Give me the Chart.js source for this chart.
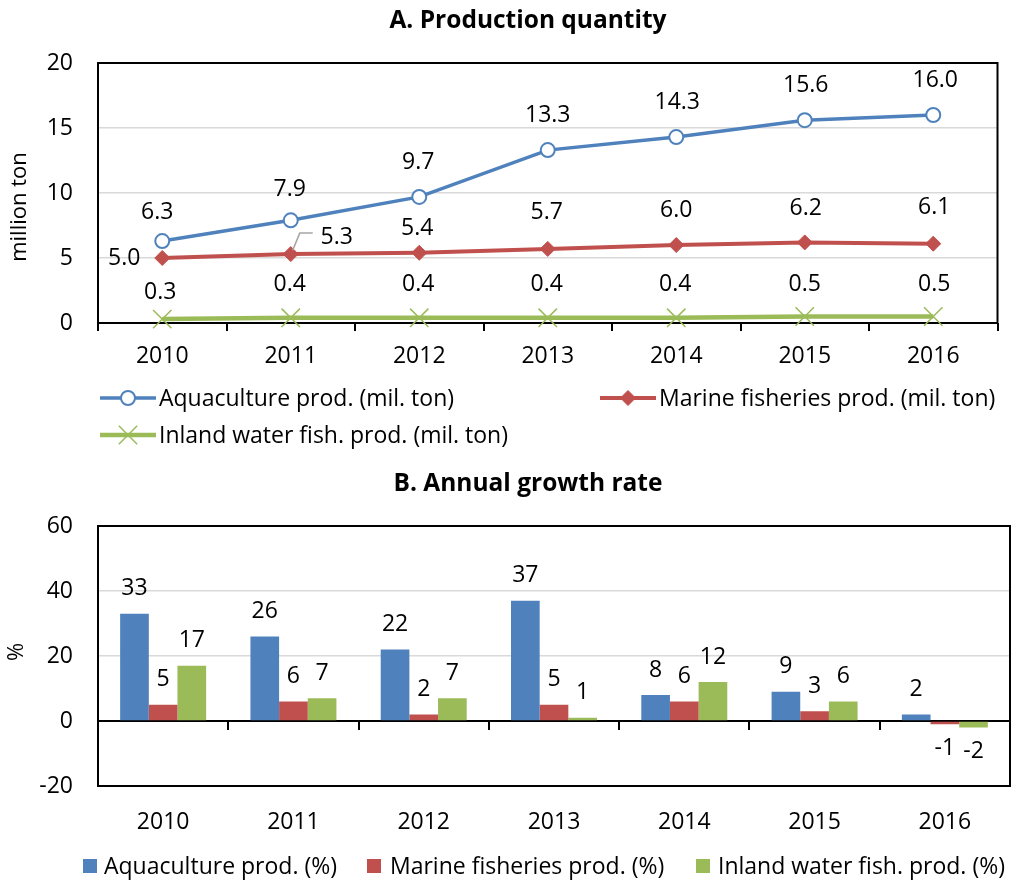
<!DOCTYPE html>
<html>
<head>
<meta charset="utf-8">
<script src="https://cdn.jsdelivr.net/npm/chart.js@4.4.0/dist/chart.umd.min.js"></script>
<style>
  html, body { margin: 0; padding: 0; background: #fff; }
  #wrap { position: relative; width: 1012px; height: 881px; }
  #prodChart { position: absolute; left: 0; top: 0; }
  #growthChart { position: absolute; left: 0; top: 455px; }
</style>
</head>
<body>
<div id="wrap">
  <canvas id="prodChart" width="1012" height="455"></canvas>
  <canvas id="growthChart" width="1012" height="426"></canvas>
</div>
<script>
// ---- data ----
const years = ['2010', '2011', '2012', '2013', '2014', '2015', '2016'];

const aquaProd   = [6.3, 7.9, 9.7, 13.3, 14.3, 15.6, 16.0];
const marineProd = [5.0, 5.3, 5.4, 5.7, 6.0, 6.2, 6.1];
const inlandProd = [0.3, 0.4, 0.4, 0.4, 0.4, 0.5, 0.5];

const aquaGrowth   = [33, 26, 22, 37, 8, 9, 2];
const marineGrowth = [5, 6, 2, 5, 6, 3, -1];
const inlandGrowth = [17, 7, 7, 1, 12, 6, -2];

const prodTicks   = [0, 5, 10, 15, 20];
const growthTicks = [-20, 0, 20, 40, 60];

const prodTitle   = 'A. Production quantity';
const growthTitle = 'B. Annual growth rate';
const prodAxisTitle   = 'million ton';
const growthAxisTitle = '%';

const prodNames = ['Aquaculture prod. (mil. ton)', 'Marine fisheries prod. (mil. ton)', 'Inland water fish. prod. (mil. ton)'];
const growthNames = ['Aquaculture prod. (%)', 'Marine fisheries prod. (%)', 'Inland water fish. prod. (%)'];

// ---- styling ----
const FONT = '"Open Sans", Lato, "DejaVu Sans", sans-serif';
const FS = 23;
const BLUE = '#4F81BD', RED = '#C0504D', GREEN = '#9BBB59';
const GRID = '#D9D9D9';
Chart.defaults.font.family = FONT;
Chart.defaults.font.size = FS;
Chart.defaults.color = '#000';

// Plot frame, zero line and category tick marks
const framePlugin = {
  id: 'frame',
  beforeDatasetsDraw(chart, args, opts) {
    const { ctx, chartArea: a, scales: { x, y } } = chart;
    ctx.save();
    ctx.strokeStyle = '#000';
    ctx.lineWidth = 2;
    ctx.strokeRect(a.left, a.top, a.right - a.left, a.bottom - a.top);
    const y0 = y.getPixelForValue(0);
    ctx.beginPath();
    ctx.moveTo(a.left, y0);
    ctx.lineTo(a.right, y0);
    for (let i = 0; i <= x.ticks.length; i++) {
      const px = Math.round(x.getPixelForValue(i - 0.5));
      ctx.moveTo(px, y0);
      ctx.lineTo(px, y0 + opts.tickLength);
    }
    ctx.stroke();
    ctx.restore();
  }
};

// Chart heading and rotated value-axis caption
const captionPlugin = {
  id: 'captions',
  afterDraw(chart, args, opts) {
    const { ctx } = chart;
    ctx.save();
    ctx.fillStyle = '#000';
    ctx.textAlign = 'center';
    ctx.textBaseline = 'middle';
    ctx.font = 'bold ' + opts.titleSize + 'px ' + FONT;
    ctx.fillText(opts.title, opts.titleX, opts.titleY);
    ctx.translate(opts.axisX, opts.axisY);
    ctx.rotate(-Math.PI / 2);
    ctx.font = opts.axisSize + 'px ' + FONT;
    ctx.fillText(opts.axis, 0, 0);
    ctx.restore();
  }
};

// Value labels next to each point / bar
const valueLabelPlugin = {
  id: 'valueLabels',
  afterDatasetsDraw(chart, args, opts) {
    const { ctx } = chart;
    ctx.save();
    ctx.font = FS + 'px ' + FONT;
    ctx.fillStyle = '#000';
    ctx.textAlign = 'center';
    ctx.textBaseline = 'middle';
    chart.data.datasets.forEach((ds, di) => {
      const meta = chart.getDatasetMeta(di);
      meta.data.forEach((el, i) => {
        const v = ds.data[i];
        const [dx, dy] = opts.nudge(di, i, v);
        ctx.fillText(opts.format(v), el.x + dx, el.y + dy);
      });
    });
    if (opts.leader) {
      const { dataset, index, path } = opts.leader;
      const el = chart.getDatasetMeta(dataset).data[index];
      ctx.strokeStyle = '#A6A6A6';
      ctx.lineWidth = 1.5;
      ctx.beginPath();
      path.forEach(([dx, dy], k) => {
        if (k === 0) ctx.moveTo(el.x + dx, el.y + dy);
        else ctx.lineTo(el.x + dx, el.y + dy);
      });
      ctx.stroke();
    }
    ctx.restore();
  }
};

// Legend with line + marker swatches
const lineLegendPlugin = {
  id: 'lineLegend',
  afterDraw(chart, args, opts) {
    const { ctx } = chart;
    ctx.save();
    opts.items.forEach(it => {
      const ds = chart.data.datasets[it.dataset];
      ctx.strokeStyle = ds.borderColor;
      ctx.lineWidth = ds.borderWidth;
      ctx.beginPath();
      ctx.moveTo(it.x, it.y);
      ctx.lineTo(it.x + 56, it.y);
      ctx.stroke();
      ctx.fillStyle = ds.pointBackgroundColor;
      ctx.strokeStyle = ds.pointBorderColor;
      ctx.lineWidth = ds.pointBorderWidth;
      Chart.helpers.drawPoint(ctx, {
        pointStyle: ds.pointStyle, rotation: 0,
        radius: ds.pointRadius, borderWidth: ds.pointBorderWidth
      }, it.x + 28, it.y);
      ctx.font = FS + 'px ' + FONT;
      ctx.fillStyle = '#000';
      ctx.textAlign = 'left';
      ctx.textBaseline = 'middle';
      ctx.fillText(ds.label, it.x + 59, it.y + 1);
    });
    ctx.restore();
  }
};

// Legend with square swatches
const boxLegendPlugin = {
  id: 'boxLegend',
  afterDraw(chart, args, opts) {
    const { ctx } = chart;
    ctx.save();
    opts.items.forEach(it => {
      const ds = chart.data.datasets[it.dataset];
      ctx.fillStyle = ds.backgroundColor;
      ctx.fillRect(it.x, it.y - 7, 14, 14);
      ctx.font = FS + 'px ' + FONT;
      ctx.fillStyle = '#000';
      ctx.textAlign = 'left';
      ctx.textBaseline = 'middle';
      ctx.fillText(ds.label, it.textX, it.y + 1);
    });
    ctx.restore();
  }
};

// ---- A. production quantity ----
const prodLabelNudge = [
  [[-5, -29], [-1, -31], [-1, -34], [0, -35], [1, -35], [1, -35], [2, -35]],
  [[-38, 0], [46, -17], [-2, -24], [-1, -36], [0, -35], [1, -34], [1, -36]],
  [[-2, -27], [-1, -33], [-1, -33], [-1, -33], [-1, -33], [0, -32], [1, -32]]
];

new Chart(document.getElementById('prodChart'), {
  type: 'line',
  data: {
    labels: years,
    datasets: [
      {
        label: prodNames[0], data: aquaProd,
        borderColor: BLUE, borderWidth: 3.5,
        pointStyle: 'circle', pointRadius: 7, pointBorderWidth: 2,
        pointBackgroundColor: '#fff', pointBorderColor: BLUE,
        clip: false
      },
      {
        label: prodNames[1], data: marineProd,
        borderColor: RED, borderWidth: 4,
        pointStyle: 'rectRot', pointRadius: 7.5, pointBorderWidth: 1,
        pointBackgroundColor: RED, pointBorderColor: RED,
        clip: false
      },
      {
        label: prodNames[2], data: inlandProd,
        borderColor: GREEN, borderWidth: 4.5,
        pointStyle: 'crossRot', pointRadius: 13, pointBorderWidth: 1.5,
        pointBackgroundColor: GREEN, pointBorderColor: GREEN,
        clip: false
      }
    ]
  },
  options: {
    responsive: false,
    animation: false,
    events: [],
    layout: { padding: { top: 63, right: 2, left: 0, bottom: 0 } },
    scales: {
      x: {
        offset: true,
        grid: { display: false, drawTicks: false },
        border: { display: false },
        ticks: { padding: 20, maxRotation: 0 },
        afterFit: s => { s.height = 132; }
      },
      y: {
        min: prodTicks[0], max: prodTicks[prodTicks.length - 1],
        afterBuildTicks: s => { s.ticks = prodTicks.map(v => ({ value: v })); },
        grid: { color: GRID, lineWidth: 1.5, drawTicks: false },
        border: { display: false },
        ticks: { padding: 25 },
        afterFit: s => { s.width = 98; }
      }
    },
    plugins: {
      legend: { display: false },
      tooltip: { enabled: false },
      frame: { tickLength: 8 },
      captions: {
        title: prodTitle, titleSize: 24.5, titleX: 528, titleY: 21,
        axis: prodAxisTitle, axisSize: 22, axisX: 20, axisY: 207
      },
      valueLabels: {
        format: v => v.toFixed(1),
        nudge: (di, i) => prodLabelNudge[di][i],
        leader: { dataset: 1, index: 1, path: [[2, -4], [9, -21], [22, -21]] }
      },
      lineLegend: {
        items: [
          { dataset: 0, x: 100, y: 398 },
          { dataset: 1, x: 600, y: 398 },
          { dataset: 2, x: 100, y: 435 }
        ]
      }
    }
  },
  plugins: [framePlugin, captionPlugin, valueLabelPlugin, lineLegendPlugin]
});

// ---- B. annual growth rate ----
new Chart(document.getElementById('growthChart'), {
  type: 'bar',
  data: {
    labels: years,
    datasets: [
      { label: growthNames[0], data: aquaGrowth, backgroundColor: BLUE },
      { label: growthNames[1], data: marineGrowth, backgroundColor: RED },
      { label: growthNames[2], data: inlandGrowth, backgroundColor: GREEN }
    ]
  },
  options: {
    responsive: false,
    animation: false,
    events: [],
    layout: { padding: { top: 71, right: 2, left: 0, bottom: 0 } },
    datasets: { bar: { categoryPercentage: 0.66, barPercentage: 1 } },
    scales: {
      x: {
        grid: { display: false, drawTicks: false },
        border: { display: false },
        ticks: { padding: 23, maxRotation: 0 },
        afterFit: s => { s.height = 95; }
      },
      y: {
        min: growthTicks[0], max: growthTicks[growthTicks.length - 1],
        afterBuildTicks: s => { s.ticks = growthTicks.map(v => ({ value: v })); },
        grid: { color: GRID, lineWidth: 1.5, drawTicks: false },
        border: { display: false },
        ticks: { padding: 25 },
        afterFit: s => { s.width = 98; }
      }
    },
    plugins: {
      legend: { display: false },
      tooltip: { enabled: false },
      frame: { tickLength: 9 },
      captions: {
        title: growthTitle, titleSize: 24.5, titleX: 528, titleY: 29,
        axis: growthAxisTitle, axisSize: 22, axisX: 17, axisY: 197
      },
      valueLabels: {
        format: v => String(v),
        nudge: (di, i, v) => [0, v >= 0 ? -25 : 24]
      },
      boxLegend: {
        items: [
          { dataset: 0, x: 83, y: 411, textX: 104 },
          { dataset: 1, x: 367, y: 411, textX: 390 },
          { dataset: 2, x: 696, y: 411, textX: 718 }
        ]
      }
    }
  },
  plugins: [framePlugin, captionPlugin, valueLabelPlugin, boxLegendPlugin]
});
</script>
</body>
</html>
